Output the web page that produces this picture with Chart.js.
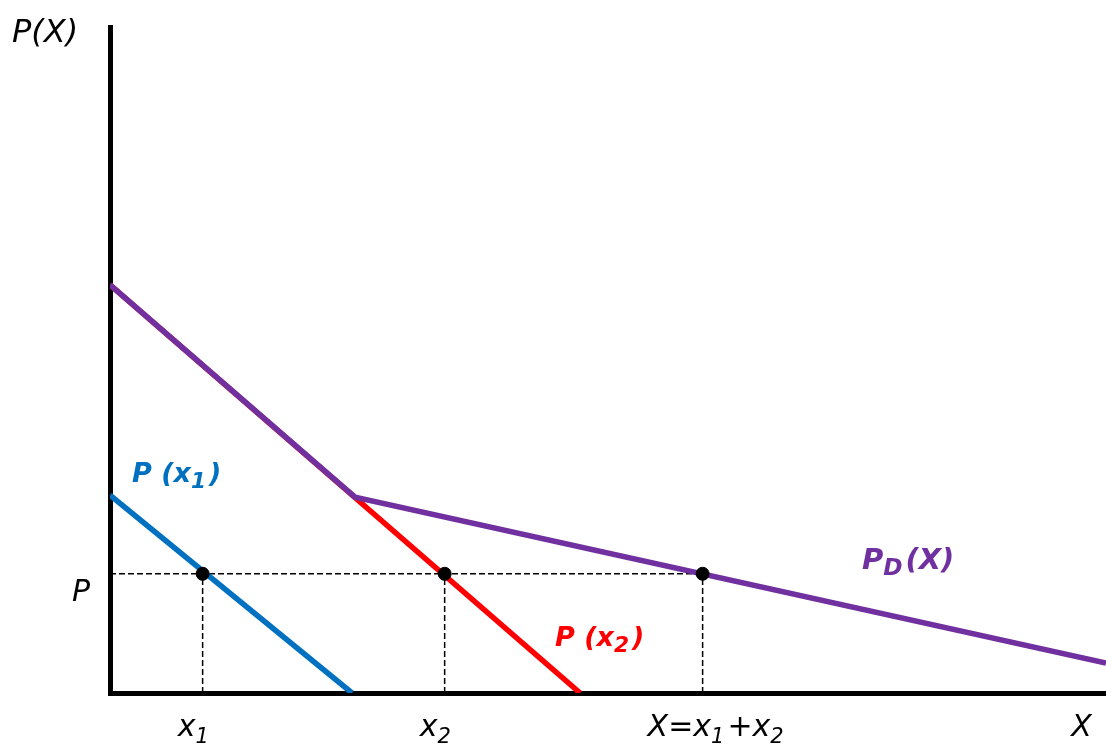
<!DOCTYPE html>
<html>
<head>
<meta charset="utf-8">
<script src="https://cdn.jsdelivr.net/npm/chart.js@4.4.1/dist/chart.umd.min.js"></script>
<style>
  html, body { margin: 0; padding: 0; background: #fff; }
  #wrap { width: 1106px; height: 744px; }
</style>
</head>
<body>
<div id="wrap"><canvas id="chart"></canvas></div>
<script>
// demand curves (x = quantity, y = price)
const blueX = [0, 24.3];
const blueY = [29.7, 0];
const redX = [0, 47.2];
const redY = [61.3, 0];
const purpleX = [0, 24.6, 100];
const purpleY = [61.3, 29.4, 4.5];

// price level and the quantities read at it
const priceP = 17.9;
const qtyX = [9.3, 33.6, 59.5];

// labels under the x axis (left edge in px relative to the value)
const tickX = [
  { x: 9.3, dx: -25, parts: [["x", 0], ["1", 1]] },
  { x: 33.6, dx: -25, parts: [["x", 0], ["2", 1]] },
  { x: 59.5, dx: -55, parts: [["X=x", 0], ["1", 1], ["+x", 0], ["2", 1]] },
  { x: 96.5, dx: 0, parts: [["X", 0]] },
];

const BLUE = "#0070C0";
const RED = "#FF0000";
const PURPLE = "#7030A0";

function toPoints(xs, ys) {
  return xs.map((x, i) => ({ x: x, y: ys[i] }));
}

// first dataset is drawn on top
const datasets = [];

datasets.push({
  data: qtyX.map((q) => ({ x: q, y: priceP })),
  backgroundColor: "#000",
  borderColor: "#000",
  pointRadius: 6.5,
  showLine: false,
});

datasets.push({
  data: toPoints(purpleX, purpleY),
  borderColor: PURPLE,
  borderWidth: 5.5,
  pointRadius: 0,
  showLine: true,
});
datasets.push({
  data: toPoints(blueX, blueY),
  borderColor: BLUE,
  borderWidth: 5.5,
  pointRadius: 0,
  showLine: true,
});
datasets.push({
  data: toPoints(redX, redY),
  borderColor: RED,
  borderWidth: 5.5,
  pointRadius: 0,
  showLine: true,
});

datasets.push({
  data: [{ x: 0, y: priceP }, { x: qtyX[2], y: priceP }],
  borderColor: "#000",
  borderWidth: 1.5,
  borderDash: [6, 3],
  pointRadius: 0,
  showLine: true,
});
qtyX.forEach((q) => {
  datasets.push({
    data: [{ x: q, y: 0 }, { x: q, y: priceP }],
    borderColor: "#000",
    borderWidth: 1.5,
    borderDash: [6, 3],
    pointRadius: 0,
    showLine: true,
  });
});

// write text with subscripts, starting at x (left) and baseline y
function drawParts(ctx, parts, x, y, size, weight, color, subScale) {
  subScale = subScale || 0.7;
  ctx.fillStyle = color;
  ctx.textBaseline = "alphabetic";
  ctx.textAlign = "left";
  let cx = x;
  parts.forEach(([t, sub]) => {
    const s = sub ? size * subScale : size;
    ctx.font = `${weight} italic ${s}px "DejaVu Sans"`;
    ctx.fillText(t, cx, sub ? y + size * 0.22 : y);
    cx += ctx.measureText(t).width + (sub ? 3 : 0);
  });
}

const labelsPlugin = {
  id: "labels",
  afterDraw(chart) {
    const ctx = chart.ctx;
    const xs = chart.scales.x;
    ctx.save();

    drawParts(ctx, [["P(X)", 0]], 12, 42, 32, "normal", "#000");
    drawParts(ctx, [["P", 0]], 72, 601, 30, "normal", "#000");

    tickX.forEach((t) => {
      const px = xs.getPixelForValue(t.x);
      drawParts(ctx, t.parts, px + t.dx, 736, 30, "normal", "#000");
    });

    drawParts(ctx, [["P (x", 0], ["1", 1], [")", 0]], 132, 482, 27, "bold", BLUE, 0.8);
    drawParts(ctx, [["P (x", 0], ["2", 1], [")", 0]], 555, 646, 27, "bold", RED, 0.8);
    drawParts(ctx, [["P", 0], ["D", 1], ["(X)", 0]], 862, 569, 29, "bold", PURPLE, 0.8);

    ctx.restore();
  },
};

new Chart(document.getElementById("chart"), {
  type: "scatter",
  data: { datasets: datasets },
  options: {
    responsive: true,
    maintainAspectRatio: false,
    animation: false,
    layout: { autoPadding: false, padding: { left: 110, top: 27, right: 0, bottom: 51 } },
    plugins: {
      legend: { display: false },
      tooltip: { enabled: false },
    },
    scales: {
      x: {
        type: "linear",
        min: 0,
        max: 100,
        ticks: { display: false },
        grid: { display: false, drawTicks: false },
        border: { display: true, color: "#000", width: 5 },
      },
      y: {
        type: "linear",
        min: 0,
        max: 100,
        ticks: { display: false },
        grid: { display: false, drawTicks: false },
        border: { display: true, color: "#000", width: 5 },
      },
    },
  },
  plugins: [labelsPlugin],
});
</script>
</body>
</html>
